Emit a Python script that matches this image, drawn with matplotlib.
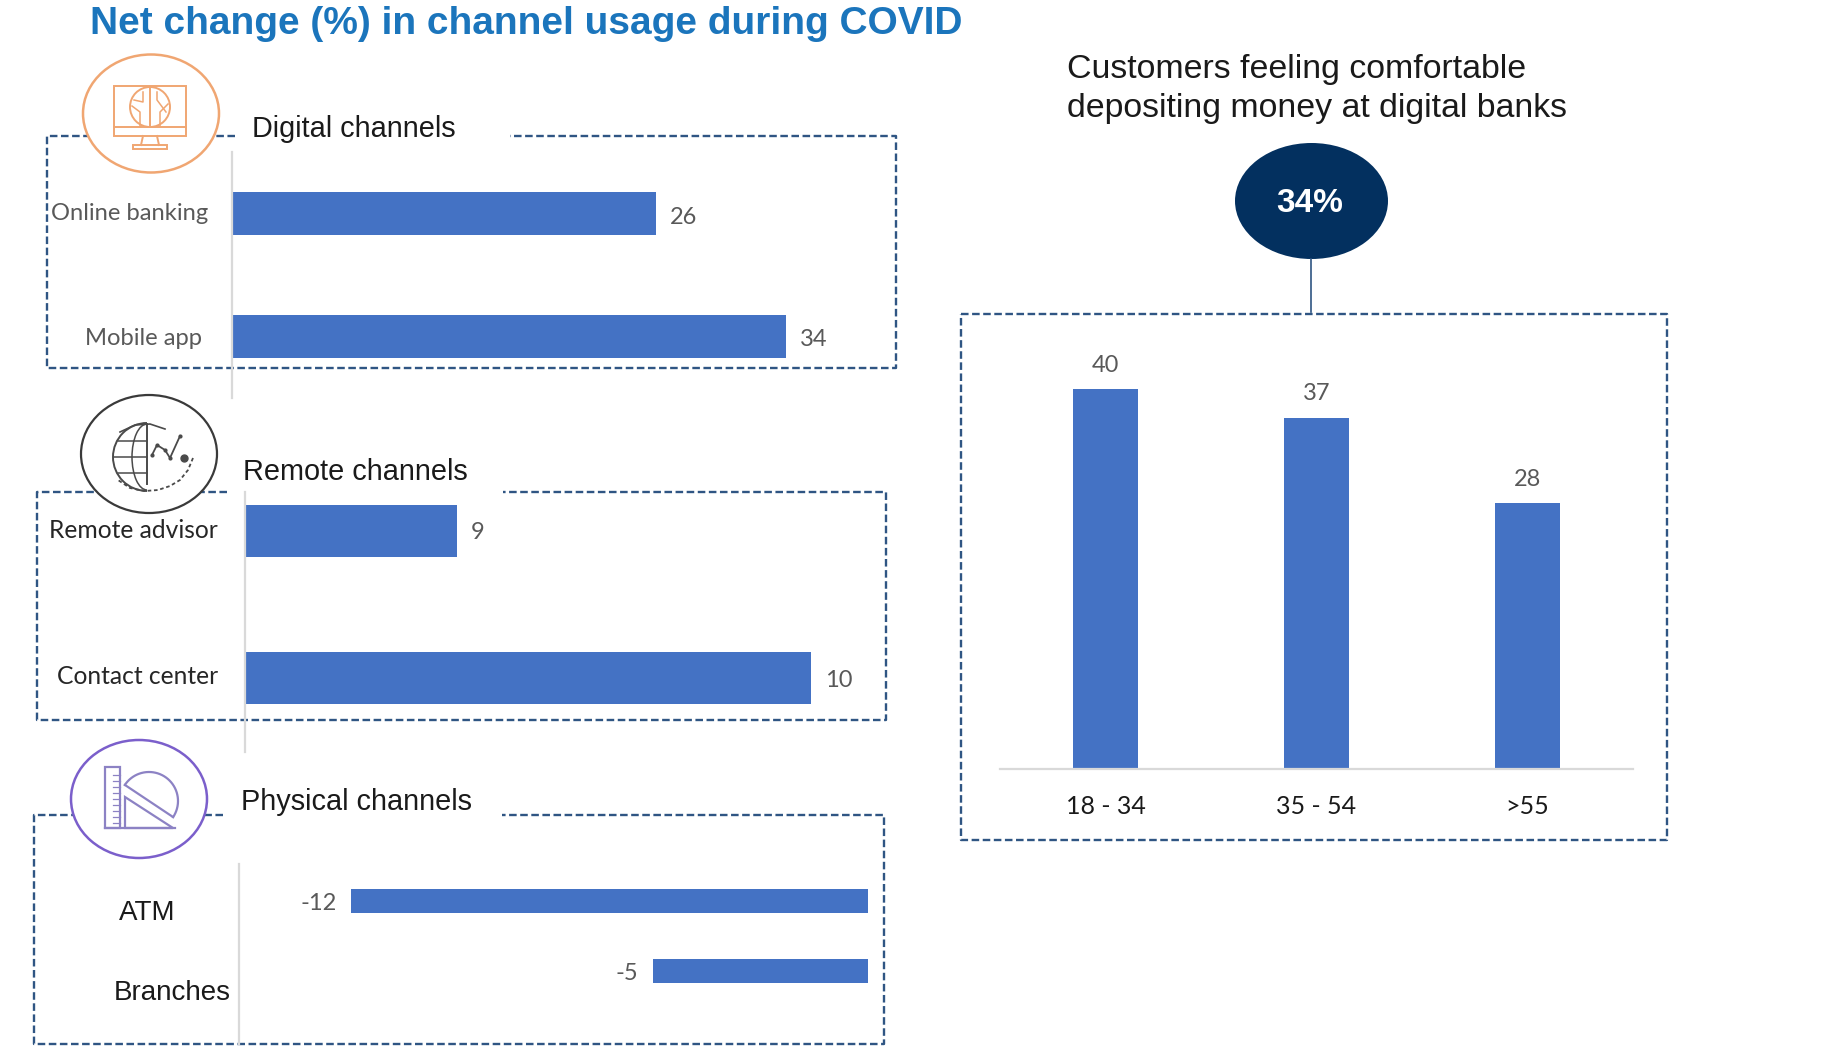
import numpy as np
import matplotlib
matplotlib.use("Agg")
import matplotlib.pyplot as plt
from matplotlib.patches import Ellipse, Rectangle, Circle, Arc, Polygon

W, H = 1828, 1062
BLUE = "#4472C4"
DASH = "#2F5583"
GRAY = "#595959"
AXIS = "#D9D9D9"
SANS = "Liberation Sans"
CAL = "Lato"

title = "Net change (%) in channel usage during COVID"
digital_cats = ["Online banking", "Mobile app"]
digital_vals = [26, 34]
remote_cats = ["Remote advisor", "Contact center"]
remote_labels = ["9", "10"]
remote_lengths = [3.75, 10]  # drawn bar lengths in the picture (not proportional to the labels)
physical_cats = ["ATM", "Branches"]
physical_vals = [-12, -5]
age_cats = ["18 - 34", "35 - 54", ">55"]
age_vals = [40, 37, 28]

fig = plt.figure(figsize=(W / 100, H / 100), dpi=100, facecolor="white")


def axes_px(x0, y0, x1, y1, z=2):
    ax = fig.add_axes([x0 / W, 1 - y1 / H, (x1 - x0) / W, (y1 - y0) / H], zorder=z)
    ax.patch.set_alpha(0)
    return ax


# overlay in pixel coordinates for frames, headings and icons
bg = axes_px(0, 0, W, H, z=1)
bg.set_xlim(0, W)
bg.set_ylim(H, 0)
bg.axis("off")
top = axes_px(0, 0, W, H, z=5)
top.set_xlim(0, W)
top.set_ylim(H, 0)
top.axis("off")


def frame(x0, y0, x1, y1, gap0=None, gap1=None):
    st = dict(color=DASH, lw=1.7, ls=(0, (3.2, 1.5)), zorder=1)
    if gap0 is None:
        bg.plot([x0, x1, x1, x0, x0], [y0, y0, y1, y1, y0], **st)
    else:
        bg.plot([gap0, x0, x0, x1, x1, gap1], [y0, y0, y1, y1, y0, y0], **st)


frame(47, 136, 896, 368, 235, 510)
frame(37, 492, 886, 720, 227, 503)
frame(34, 815, 884, 1044, 223, 502)
frame(961, 314, 1667, 840)


def hbar_panel(box, xlim, ylim, cats, lengths, labels, val_dy, bar_h, cat_font, cat_color, cat_right, cat_size, cat_dy):
    ax = axes_px(*box)
    ax.set_xlim(*xlim)
    ax.set_ylim(*ylim)
    y = np.arange(len(cats))
    h = ax.barh(y, lengths, height=bar_h, color=BLUE)
    for s in ("top", "right", "bottom"):
        ax.spines[s].set_visible(False)
    ax.spines["left"].set_color(AXIS)
    ax.spines["left"].set_linewidth(1.6)
    ax.set_xticks([])
    ax.set_yticks([])
    for i, (r, lab) in enumerate(zip(h, labels)):
        v = r.get_width()
        ax.annotate(lab, (v, i), xytext=(14 if v > 0 else -14, val_dy),
                    textcoords="offset pixels", ha="left" if v > 0 else "right", va="center",
                    color=GRAY, fontsize=17, family=CAL)
    tr = ax.get_yaxis_transform()
    for i, c in enumerate(cats):
        ax.annotate(c, (0, i), xycoords=tr, xytext=(cat_right[i] - box[0], cat_dy[i]), textcoords="offset pixels",
                    ha="right", va="center", fontsize=cat_size, family=cat_font, color=cat_color)
    return ax


hbar_panel((232, 152, 880, 398), (0, 648 / 16.3), (1.5, -0.5), digital_cats, digital_vals,
           [str(v) for v in digital_vals], -3.5, 0.35, CAL, GRAY, (208, 202), 17.1, (0, -2))
ax_r = hbar_panel((245, 457, 880, 752), (0, 635 / 56.6), (1.5, -0.5), remote_cats, remote_lengths,
                  remote_labels, -2, 0.35, CAL, "#262626", (218, 218), 17.7, (0.5, 2))
ax_r.spines["left"].set_bounds(1.5, -0.26)
hbar_panel((239, 864, 868, 1044), (-(868 - 239) / 43.1, 0), (2.04, -0.53), physical_cats, physical_vals,
           [str(v) for v in physical_vals], -2, 0.35, SANS, "#1a1a1a", (175, 231), 20, (-12, -22))

# column panel
ax = axes_px(1000, 320, 1633, 769)
x = np.arange(len(age_cats))
bars = ax.bar(x, age_vals, width=0.31, color=BLUE)
ax.set_xlim(-0.5, 2.5)
ax.set_ylim(0, 449 / 9.5)
for s in ("top", "right", "left"):
    ax.spines[s].set_visible(False)
ax.spines["bottom"].set_color(AXIS)
ax.spines["bottom"].set_linewidth(1.6)
ax.set_yticks([])
ax.set_xticks(x)
ax.set_xticklabels(age_cats, fontsize=18, family=CAL, color="#1a1a1a")
ax.tick_params(axis="x", length=0, pad=19)
for r, v in zip(bars, age_vals):
    ax.annotate(str(v), (r.get_x() + r.get_width() / 2, v), xytext=(0, 24), textcoords="offset pixels",
                ha="center", va="center", color=GRAY, fontsize=17, family=CAL)

# headings
top.text(90, 24.5, title, color="#1B75BC", fontsize=28, fontweight="bold", family=SANS, va="center", ha="left")
top.text(252, 129, "Digital channels", fontsize=20.8, family=SANS, va="center", color="#1a1a1a")
top.text(243, 472, "Remote channels", fontsize=20.8, family=SANS, va="center", color="#1a1a1a")
top.text(241, 802, "Physical channels", fontsize=20.8, family=SANS, va="center", color="#1a1a1a")
top.text(1067, 69.5, "Customers feeling comfortable", fontsize=24.4, family=SANS, va="center", color="#1a1a1a")
top.text(1067, 108.5, "depositing money at digital banks", fontsize=24.4, family=SANS, va="center", color="#1a1a1a")

# callout
top.plot([1311, 1311], [259, 312], color=DASH, lw=1.2)
top.add_patch(Ellipse((1311.5, 201), 153, 116, fc="#03305F", ec="none"))
top.text(1310, 203, "34%", color="white", fontsize=24, fontweight="bold", family=SANS, ha="center", va="center")

# icon rings
ORANGE, DARK, PURPLE = "#F0A672", "#3A3A3A", "#7B5FCB"
top.add_patch(Ellipse((151, 113.5), 136, 118, fc="white", ec=ORANGE, lw=1.8))
top.add_patch(Ellipse((149, 454), 136, 118, fc="white", ec=DARK, lw=1.6))
top.add_patch(Ellipse((139, 799), 136, 118, fc="white", ec=PURPLE, lw=1.8))

# monitor icon
lw = 1.4
top.add_patch(Rectangle((114, 86), 72, 50, fc="none", ec=ORANGE, lw=lw))
top.plot([114, 186], [127, 127], color=ORANGE, lw=lw)
top.add_patch(Circle((150, 107), 20, fc="none", ec=ORANGE, lw=lw))
top.plot([150, 150], [88, 126], color=ORANGE, lw=lw)
for pts in ([(140, 126), (140, 112), (132, 106)], [(160, 126), (160, 112), (168, 104)], [(143, 92), (143, 102), (134, 100)], [(157, 92), (157, 100), (166, 112)]):
    top.plot(*zip(*pts), color=ORANGE, lw=1.1)
top.plot([143, 141], [136, 145], color=ORANGE, lw=lw)
top.plot([157, 159], [136, 145], color=ORANGE, lw=lw)
top.add_patch(Rectangle((133, 145), 34, 4, fc="none", ec=ORANGE, lw=lw))

# globe icon
G = "#4a4a4a"
top.add_patch(Arc((147, 457), 68, 68, theta1=90, theta2=270, ec=G, lw=1.4))
top.plot([147, 147], [424, 484], color=G, lw=1.4)
top.add_patch(Arc((147, 457), 30, 66, theta1=90, theta2=270, ec=G, lw=1.1))
top.plot([114, 147], [457, 457], color=G, lw=1.1)
top.plot([118, 147], [441, 441], color=G, lw=1.1)
top.plot([118, 147], [473, 473], color=G, lw=1.1)
top.plot([152, 157, 165, 170, 180], [455, 445, 450, 458, 436], color=G, lw=1.3, marker="o", ms=2)
top.plot([120, 135, 150, 165], [432, 425, 424, 429], color=G, lw=1.2)
top.plot([193, 188, 180, 170, 158, 145, 130, 118], [458, 470, 480, 486, 490, 491, 488, 480], color=G, lw=1.3, ls=(0, (2, 1.5)))
top.plot([184], [458], "o", color=G, ms=5)

# drafting icon
P = "#8C82C4"
top.add_patch(Rectangle((105, 767), 15, 61, fc="none", ec=P, lw=1.6))
for yy in np.arange(775, 826, 6):
    top.plot([113, 120], [yy, yy], color=P, lw=0.9)
top.plot([105, 175], [828, 828], color=P, lw=1.6)
top.add_patch(Polygon([(125, 797), (173, 828), (125, 828)], fc="none", ec=P, lw=1.6))
t = np.radians(np.linspace(33.7 - 180, 33.7, 40))
top.plot(149 + 29 * np.cos(t), 801 + 29 * np.sin(t), color=P, lw=1.6)
top.plot([125, 173], [785, 817], color=P, lw=1.6)

fig.savefig("out.png", dpi=100, facecolor="white")
